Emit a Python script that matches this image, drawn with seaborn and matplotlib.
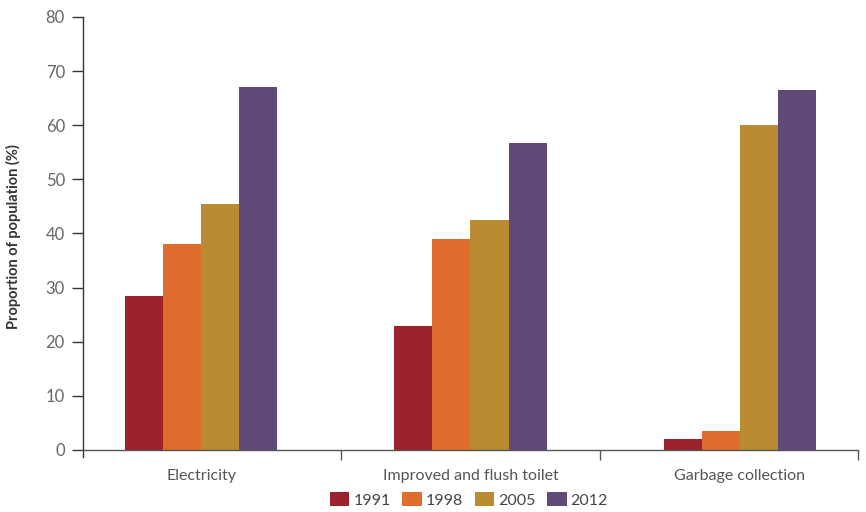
import matplotlib
matplotlib.use("Agg")
import matplotlib.pyplot as plt
import matplotlib.patches as mpatches
from matplotlib.ticker import FixedLocator
import numpy as np
import pandas as pd
import seaborn as sns

# Access to basic services, share of population (%)
services = ["Electricity", "Improved and flush toilet", "Garbage collection"]
years = ["1991", "1998", "2005", "2012"]
values_1991 = [28.5, 22.9, 2.0]
values_1998 = [38.1, 39.0, 3.5]
values_2005 = [45.5, 42.5, 60.0]
values_2012 = [67.1, 56.7, 66.5]
year_colors = ["#9B232D", "#E06C2D", "#B98C32", "#624A78"]

series = [values_1991, values_1998, values_2005, values_2012]
df = pd.DataFrame(
    [(s, y, v) for y, vals in zip(years, series) for s, v in zip(services, vals)],
    columns=["service", "year", "share"],
)

sns.set_style("white")
plt.rcParams["font.family"] = ["Lato", "DejaVu Sans"]

fig = plt.figure(figsize=(8.66, 5.12), dpi=100)
ax = fig.add_axes([0.0958, 0.1074, 0.8950, 0.8594])

sns.barplot(
    data=df, x="service", y="share", hue="year", order=services,
    hue_order=years, palette=year_colors, width=0.565, saturation=1,
    linewidth=0, legend=False, ax=ax,
)

x_lo, x_hi = -0.438, 2.438
ax.set_xlim(x_lo, x_hi)
ax.set_ylim(-1.3, 80)
ax.set_yticks(range(0, 81, 10))
ax.set_xlabel("")
ax.set_ylabel("Proportion of population (%)", fontsize=10.5, fontweight="bold",
              color="#333333", labelpad=18)

for side in ("top", "right"):
    ax.spines[side].set_visible(False)
ax.spines["bottom"].set_position(("data", 0))
ax.spines["bottom"].set_color("#555555")
ax.spines["left"].set_color("#333333")
for sp in ("bottom", "left"):
    ax.spines[sp].set_linewidth(1.0)

ax.tick_params(axis="y", direction="out", length=8, width=1, color="#333333",
               labelsize=12, labelcolor="#666666", pad=5, left=True)
ax.tick_params(axis="x", which="major", length=0, labelsize=11.5,
               labelcolor="#555555", pad=14)
# separators between the three category panels along the baseline
ax.xaxis.set_minor_locator(FixedLocator(np.linspace(x_lo, x_hi, 4)[1:]))
ax.tick_params(axis="x", which="minor", direction="out", length=7, width=1,
               color="#555555", bottom=True)

handles = [mpatches.Patch(facecolor=c, edgecolor="none", label=y)
           for c, y in zip(year_colors, years)]
fig.legend(handles=handles, loc="center", bbox_to_anchor=(469 / 866, 1 - 500 / 512),
           ncol=4, frameon=False, handlelength=1.2, handleheight=0.9,
           handletextpad=0.25, columnspacing=0.75, fontsize=11.5,
           labelcolor="#444444", borderpad=0)

fig.savefig("out.png", dpi=100)
